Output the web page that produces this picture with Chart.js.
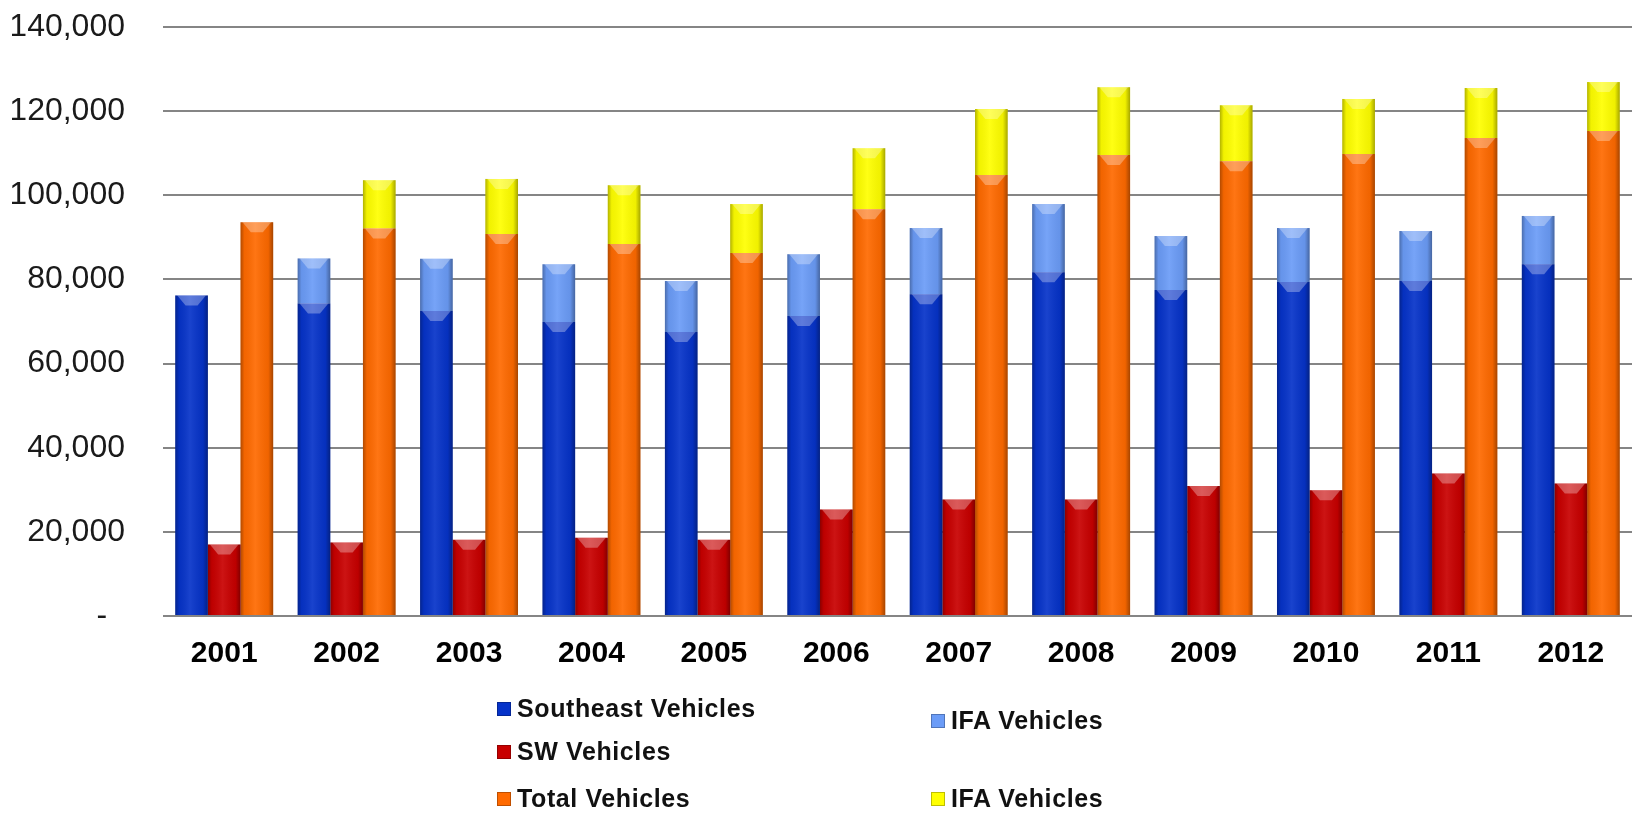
<!DOCTYPE html>
<html lang="en">
<head>
    <title>Vehicles 2001-2012</title>
    <script src="https://cdn.jsdelivr.net/npm/chart.js@4/dist/chart.umd.min.js"></script>
    <style>
        html, body { margin: 0; padding: 0; background: #fff; }
        #wrap { position: relative; width: 1640px; height: 813px; }
        #legend { position: absolute; left: 0; top: 0; width: 1640px; height: 813px; pointer-events: none;
                  font-family: "Liberation Sans", Arial, sans-serif; font-weight: bold; font-size: 25px; color: #111; }
        .item { position: absolute; white-space: nowrap; line-height: 30px; letter-spacing: 0.6px; }
        .box { display: inline-block; width: 14px; height: 14px; margin-right: 6px; vertical-align: 1px;
               box-shadow: inset 0 0 0 1px rgba(0,0,0,0.25); }
    </style>
</head>
<body>
<div id="wrap">
    <canvas id="vehicles" width="1640" height="813"></canvas>
    <div id="legend"></div>
</div>

<script type="text/javascript">

    const years = ["2001", "2002", "2003", "2004", "2005", "2006", "2007", "2008", "2009", "2010", "2011", "2012"];

    const southeastVehicles = [76200, 74300, 72500, 69900, 67500, 71300, 76500, 81700, 77500, 79400, 79600, 83600];
    const ifaOnSoutheast = [0, 10700, 12400, 13700, 12100, 14700, 15700, 16200, 12800, 12800, 11900, 11500];
    const swVehicles = [17000, 17500, 18100, 18600, 18100, 25300, 27700, 27700, 30900, 29900, 33900, 31500];
    const totalVehicles = [93600, 92100, 90800, 88400, 86300, 96700, 104800, 109600, 108100, 109800, 113600, 115300];
    const ifaOnTotal = [0, 11500, 13100, 14000, 11600, 14500, 15700, 16100, 13300, 13100, 11900, 11600];

    const yTicks = [0, 20000, 40000, 60000, 80000, 100000, 120000, 140000];

    const colors = {
        southeast: "#0633c9",
        ifaBlue: "#6b9cf7",
        sw: "#c80000",
        total: "#ff6a00",
        ifaYellow: "#ffff00"
    };

    // gives the flat bars the bevelled look of the original
    const bevel = {
        id: "bevel",
        afterDatasetsDraw(chart) {
            const ctx = chart.ctx;
            chart.data.datasets.forEach((ds, di) => {
                const meta = chart.getDatasetMeta(di);
                meta.data.forEach(bar => {
                    const h = bar.base - bar.y;
                    if (h < 1) return;
                    const left = bar.x - bar.width / 2;
                    const right = bar.x + bar.width / 2;
                    ctx.save();
                    const g = ctx.createLinearGradient(left, 0, right, 0);
                    g.addColorStop(0, "rgba(0,0,0,0.30)");
                    g.addColorStop(0.12, "rgba(0,0,0,0.05)");
                    g.addColorStop(0.45, "rgba(255,255,255,0.08)");
                    g.addColorStop(0.85, "rgba(0,0,0,0.06)");
                    g.addColorStop(1, "rgba(0,0,0,0.35)");
                    ctx.fillStyle = g;
                    ctx.fillRect(left, bar.y, bar.width, h);
                    // light wedge on top of each segment
                    const wedge = Math.min(10, h);
                    ctx.beginPath();
                    ctx.moveTo(left + 2, bar.y);
                    ctx.lineTo(right - 2, bar.y);
                    ctx.lineTo(bar.x + 6, bar.y + wedge);
                    ctx.lineTo(bar.x - 6, bar.y + wedge);
                    ctx.closePath();
                    ctx.fillStyle = "rgba(255,255,255,0.30)";
                    ctx.fill();
                    ctx.restore();
                });
            });
        }
    };

    new Chart("vehicles", {
        type: "bar",
        data: {
            labels: years,
            datasets: [
                { label: "Southeast Vehicles", data: southeastVehicles, backgroundColor: colors.southeast, stack: "a" },
                { label: "SW Vehicles", data: swVehicles, backgroundColor: colors.sw, stack: "b" },
                { label: "Total Vehicles", data: totalVehicles, backgroundColor: colors.total, stack: "c" },
                { label: "IFA Vehicles", data: ifaOnSoutheast, backgroundColor: colors.ifaBlue, stack: "a" },
                { label: "IFA Vehicles", data: ifaOnTotal, backgroundColor: colors.ifaYellow, stack: "c" }
            ]
        },
        options: {
            responsive: false,
            animation: false,
            layout: { padding: { left: 12, right: 8, top: 27, bottom: 129 } },
            datasets: {
                bar: { categoryPercentage: 0.8, barPercentage: 1.0, borderWidth: 0 }
            },
            plugins: {
                legend: { display: false },
                tooltip: { enabled: false }
            },
            scales: {
                x: {
                    stacked: true,
                    grid: { display: false },
                    border: { display: false },
                    ticks: {
                        color: "#000",
                        padding: 12,
                        font: { family: "Liberation Sans, Arial", size: 30, weight: "bold" }
                    }
                },
                y: {
                    stacked: true,
                    min: 0,
                    max: 140000,
                    afterBuildTicks: axis => { axis.ticks = yTicks.map(v => ({ value: v })); },
                    afterFit: axis => {
                        axis.width = 151;
                        axis.paddingTop = 0;
                        axis.paddingBottom = 0;
                    },
                    grid: { color: "#858585", lineWidth: 2, drawTicks: false },
                    border: { display: false },
                    ticks: {
                        color: "#1a1a1a",
                        padding: 38,
                        font: { family: "Liberation Sans, Arial", size: 32 },
                        callback: v => v === 0 ? "-  " : v.toLocaleString("en-US")
                    }
                }
            }
        },
        plugins: [bevel]
    });

    // legend laid out like the original: two loose columns under the axis
    const legendItems = [
        { text: "Southeast Vehicles", color: colors.southeast, x: 497, y: 693 },
        { text: "SW Vehicles", color: colors.sw, x: 497, y: 736 },
        { text: "Total Vehicles", color: colors.total, x: 497, y: 783 },
        { text: "IFA Vehicles", color: colors.ifaBlue, x: 931, y: 705 },
        { text: "IFA Vehicles", color: colors.ifaYellow, x: 931, y: 783 }
    ];
    const legend = document.getElementById("legend");
    legendItems.forEach(item => {
        const div = document.createElement("div");
        div.className = "item";
        div.style.left = item.x + "px";
        div.style.top = item.y + "px";
        div.innerHTML = '<span class="box" style="background:' + item.color + '"></span>' + item.text;
        legend.appendChild(div);
    });

</script>
</body>
</html>
